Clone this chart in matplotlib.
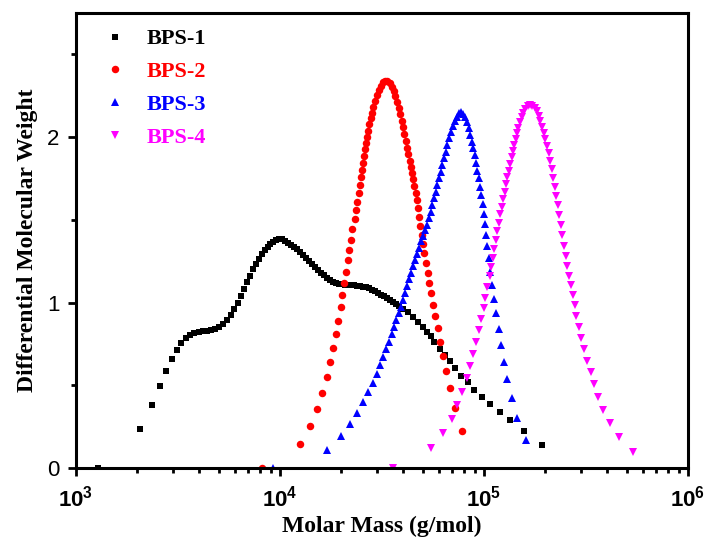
import matplotlib
matplotlib.use('Agg')
import matplotlib.pyplot as plt
import numpy as np
from matplotlib.ticker import FixedLocator, FixedFormatter, LogLocator, NullFormatter

# log10 of molar mass (g/mol) and differential weight
bps1_logm = [3.108, 3.315, 3.371, 3.410, 3.441, 3.469, 3.494, 3.515, 3.538, 3.559,
             3.580, 3.601, 3.623, 3.644, 3.663, 3.683, 3.702, 3.722, 3.740, 3.758,
             3.776, 3.794, 3.810, 3.825, 3.840, 3.854, 3.869, 3.884, 3.899, 3.912,
             3.925, 3.940, 3.952, 3.967, 3.982, 3.997, 4.011, 4.026, 4.041, 4.055,
             4.070, 4.085, 4.100, 4.114, 4.129, 4.144, 4.158, 4.173, 4.188, 4.202,
             4.217, 4.232, 4.247, 4.261, 4.276, 4.291, 4.305, 4.320, 4.335, 4.350,
             4.364, 4.379, 4.394, 4.408, 4.423, 4.438, 4.452, 4.467, 4.482, 4.497,
             4.511, 4.526, 4.541, 4.555, 4.570, 4.585, 4.604, 4.629, 4.653, 4.678,
             4.702, 4.721, 4.738, 4.757, 4.784, 4.809, 4.833, 4.860, 4.887, 4.920,
             4.953, 4.990, 5.029, 5.078, 5.129, 5.194, 5.283]
bps1_w = [0.000, 0.234, 0.379, 0.495, 0.586, 0.659, 0.713, 0.755, 0.784, 0.804,
          0.817, 0.824, 0.828, 0.830, 0.834, 0.842, 0.854, 0.872, 0.894, 0.923,
          0.959, 0.999, 1.039, 1.083, 1.124, 1.162, 1.202, 1.234, 1.265, 1.291,
          1.315, 1.335, 1.352, 1.367, 1.378, 1.384, 1.382, 1.373, 1.361, 1.350,
          1.338, 1.323, 1.308, 1.290, 1.272, 1.254, 1.236, 1.217, 1.199, 1.181,
          1.164, 1.149, 1.137, 1.127, 1.119, 1.114, 1.111, 1.109, 1.108, 1.107,
          1.106, 1.103, 1.100, 1.097, 1.091, 1.085, 1.077, 1.068, 1.059, 1.048,
          1.037, 1.026, 1.015, 1.003, 0.991, 0.979, 0.964, 0.940, 0.914, 0.885,
          0.854, 0.825, 0.795, 0.759, 0.722, 0.683, 0.645, 0.602, 0.559, 0.517,
          0.474, 0.429, 0.387, 0.341, 0.290, 0.225, 0.142]

bps2_logm = [3.910, 4.096, 4.147, 4.182, 4.207, 4.228, 4.245, 4.259, 4.274, 4.285,
             4.297, 4.306, 4.315, 4.325, 4.332, 4.338, 4.346, 4.353, 4.368, 4.374,
             4.379, 4.386, 4.392, 4.397, 4.402, 4.407, 4.412, 4.417, 4.422, 4.426,
             4.431, 4.438, 4.445, 4.451, 4.457, 4.466, 4.474, 4.484, 4.494, 4.503,
             4.515, 4.526, 4.538, 4.548, 4.557, 4.565, 4.574, 4.582, 4.590, 4.597,
             4.603, 4.609, 4.616, 4.623, 4.629, 4.636, 4.642, 4.647, 4.653, 4.658,
             4.665, 4.670, 4.676, 4.681, 4.688, 4.695, 4.701, 4.707, 4.716, 4.725,
             4.732, 4.740, 4.751, 4.761, 4.773, 4.784, 4.799, 4.814, 4.833, 4.856,
             4.892]
bps2_w = [0.000, 0.146, 0.256, 0.358, 0.456, 0.549, 0.640, 0.726, 0.811, 0.890,
          0.971, 1.044, 1.116, 1.186, 1.255, 1.318, 1.381, 1.442, 1.503, 1.559,
          1.609, 1.660, 1.710, 1.760, 1.801, 1.841, 1.885, 1.926, 1.966, 2.002,
          2.038, 2.077, 2.113, 2.147, 2.183, 2.219, 2.254, 2.284, 2.310, 2.330,
          2.340, 2.337, 2.324, 2.304, 2.278, 2.248, 2.213, 2.177, 2.139, 2.099,
          2.059, 2.018, 1.976, 1.935, 1.895, 1.855, 1.820, 1.784, 1.746, 1.706,
          1.663, 1.619, 1.573, 1.518, 1.464, 1.408, 1.352, 1.297, 1.241, 1.181,
          1.121, 1.056, 0.988, 0.917, 0.844, 0.763, 0.679, 0.586, 0.485, 0.364,
          0.222]

bps3_logm = [3.967, 4.232, 4.299, 4.344, 4.379, 4.408, 4.432, 4.454, 4.474, 4.490,
             4.506, 4.521, 4.534, 4.548, 4.559, 4.570, 4.582, 4.592, 4.601, 4.611,
             4.621, 4.631, 4.641, 4.652, 4.663, 4.673, 4.683, 4.693, 4.702, 4.712,
             4.719, 4.729, 4.739, 4.747, 4.755, 4.763, 4.771, 4.779, 4.788, 4.796,
             4.804, 4.812, 4.820, 4.828, 4.837, 4.847, 4.856, 4.866, 4.877, 4.887,
             4.897, 4.907, 4.917, 4.925, 4.933, 4.941, 4.948, 4.954, 4.961, 4.967,
             4.974, 4.980, 4.987, 4.994, 5.000, 5.005, 5.010, 5.016, 5.023, 5.031,
             5.041, 5.050, 5.060, 5.072, 5.084, 5.097, 5.114, 5.136, 5.161, 5.207]
bps3_w = [0.000, 0.111, 0.195, 0.266, 0.334, 0.397, 0.457, 0.514, 0.568, 0.622,
          0.671, 0.717, 0.763, 0.808, 0.852, 0.894, 0.935, 0.975, 1.015, 1.056,
          1.100, 1.142, 1.181, 1.221, 1.260, 1.296, 1.332, 1.369, 1.405, 1.438,
          1.468, 1.509, 1.549, 1.589, 1.630, 1.669, 1.710, 1.750, 1.790, 1.831,
          1.871, 1.911, 1.952, 1.992, 2.032, 2.066, 2.099, 2.123, 2.143, 2.149,
          2.139, 2.119, 2.089, 2.053, 2.012, 1.972, 1.932, 1.891, 1.845, 1.796,
          1.750, 1.700, 1.650, 1.593, 1.535, 1.474, 1.408, 1.341, 1.267, 1.184,
          1.106, 1.021, 0.935, 0.840, 0.742, 0.642, 0.537, 0.424, 0.302, 0.169]

bps4_logm = [4.552, 4.740, 4.801, 4.841, 4.869, 4.894, 4.915, 4.933, 4.948, 4.962,
             4.975, 4.987, 4.998, 5.007, 5.016, 5.027, 5.036, 5.043, 5.051, 5.057,
             5.065, 5.072, 5.078, 5.087, 5.093, 5.101, 5.108, 5.114, 5.123, 5.129,
             5.136, 5.142, 5.149, 5.155, 5.162, 5.168, 5.176, 5.185, 5.193, 5.202,
             5.214, 5.225, 5.237, 5.249, 5.258, 5.268, 5.276, 5.284, 5.293, 5.301,
             5.309, 5.317, 5.324, 5.332, 5.340, 5.347, 5.353, 5.361, 5.369, 5.376,
             5.384, 5.392, 5.400, 5.408, 5.416, 5.425, 5.435, 5.444, 5.453, 5.465,
             5.477, 5.490, 5.505, 5.522, 5.540, 5.560, 5.585, 5.618, 5.660, 5.729]
bps4_w = [0.000, 0.119, 0.211, 0.297, 0.381, 0.462, 0.544, 0.616, 0.692, 0.763,
          0.833, 0.899, 0.965, 1.030, 1.095, 1.158, 1.216, 1.267, 1.323, 1.378,
          1.432, 1.482, 1.533, 1.579, 1.625, 1.670, 1.714, 1.756, 1.796, 1.837,
          1.877, 1.915, 1.952, 1.988, 2.022, 2.056, 2.089, 2.119, 2.147, 2.171,
          2.187, 2.193, 2.189, 2.177, 2.157, 2.129, 2.097, 2.062, 2.026, 1.986,
          1.946, 1.901, 1.855, 1.805, 1.754, 1.700, 1.643, 1.587, 1.529, 1.468,
          1.408, 1.343, 1.281, 1.221, 1.163, 1.106, 1.045, 0.985, 0.920, 0.854,
          0.787, 0.717, 0.648, 0.580, 0.505, 0.428, 0.350, 0.270, 0.187, 0.098]

labels = ['BPS-1', 'BPS-2', 'BPS-3', 'BPS-4']
xticks = [1e3, 1e4, 1e5, 1e6]
xticklabels = [r'$\mathbf{10^{3}}$', r'$\mathbf{10^{4}}$', r'$\mathbf{10^{5}}$', r'$\mathbf{10^{6}}$']
yticks = [0, 1, 2]

plt.rcParams['mathtext.fontset'] = 'custom'
plt.rcParams['mathtext.bf'] = 'Liberation Sans:bold'
plt.rcParams['mathtext.rm'] = 'Liberation Sans'

fig = plt.figure(figsize=(7.08, 5.41), dpi=100)
ax = fig.add_axes([0.1073, 0.1349, 0.8645, 0.8411])

series = [(bps1_logm, bps1_w, 's', 'black', 4.9),
          (bps2_logm, bps2_w, 'o', 'red', 5.4),
          (bps3_logm, bps3_w, '^', 'blue', 5.8),
          (bps4_logm, bps4_w, 'v', 'magenta', 5.8)]
for (lm, w, mk, col, ms), lab in zip(series, labels):
    ax.plot(10 ** np.array(lm), w, linestyle='none', marker=mk, color=col,
            markersize=ms, markeredgewidth=0, label=lab)

ax.set_xscale('log')
ax.set_xlim(1e3, 1e6)
ax.set_ylim(0, 2.75)

ax.xaxis.set_major_locator(FixedLocator(xticks))
ax.xaxis.set_major_formatter(FixedFormatter(xticklabels))
ax.xaxis.set_minor_locator(LogLocator(base=10, subs=np.arange(2, 10)))
ax.xaxis.set_minor_formatter(NullFormatter())
ax.set_yticks(yticks)
ax.set_yticks([0.5, 1.5, 2.5], minor=True)

for s in ax.spines.values():
    s.set_linewidth(2.2)
ax.tick_params(which='both', direction='out', top=False, right=False, width=2)
ax.tick_params(which='major', length=6, pad=6)
ax.tick_params(which='minor', length=3.5)
ax.tick_params(axis='x', which='major', labelsize=16)
for t in ax.get_yticklabels():
    t.set_fontfamily('Liberation Sans')
    t.set_fontsize(16)

ax.set_xlabel('Molar Mass (g/mol)', fontfamily='Liberation Serif', fontweight='bold', fontsize=17, labelpad=4)
ax.set_ylabel('Differential Molecular Weight', fontfamily='Liberation Serif', fontweight='bold', fontsize=17, labelpad=6)

leg = ax.legend(loc='upper left', bbox_to_anchor=(0.0458, 0.965), frameon=False,
                borderpad=0, borderaxespad=0, handlelength=1.0, handletextpad=0.94,
                labelspacing=0.55, numpoints=1, labelcolor='linecolor',
                prop={'family': 'Liberation Serif', 'weight': 'bold', 'size': 16})

fig.savefig('out.png', dpi=100)
